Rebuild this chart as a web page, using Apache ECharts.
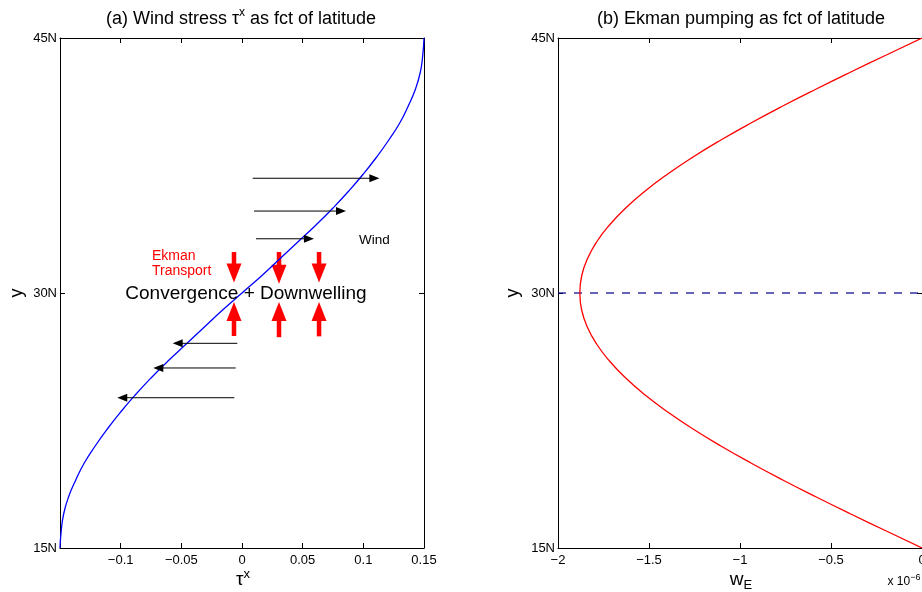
<!DOCTYPE html>
<html>
<head>
<meta charset="utf-8">
<script src="https://cdn.jsdelivr.net/npm/echarts@6/dist/echarts.min.js"></script>
<style>
html,body{margin:0;padding:0;background:#fff;}
#c{width:922px;height:592px;}
</style>
</head>
<body>
<div id="c"></div>
<script>
// ---- data ----
const latitudes = [15,16,17,18,19,20,21,22,23,24,25,26,27,28,29,30,31,32,33,34,35,36,37,38,39,40,41,42,43,44,45];
const tauX = [-0.150,-0.149,-0.147,-0.143,-0.137,-0.130,-0.121,-0.111,-0.100,-0.088,-0.075,-0.061,-0.046,-0.031,-0.016,0.000,
              0.016,0.031,0.046,0.061,0.075,0.088,0.100,0.111,0.121,0.130,0.137,0.143,0.147,0.149,0.150];
const ekmanW = [0.000,-0.196,-0.391,-0.581,-0.765,-0.940,-1.105,-1.258,-1.397,-1.521,-1.628,-1.717,-1.788,-1.839,-1.870,-1.880,
                -1.870,-1.839,-1.788,-1.717,-1.628,-1.521,-1.397,-1.258,-1.105,-0.940,-0.765,-0.581,-0.391,-0.196,0.000];
const refLat = 30;
// wind arrows (tau units, latitude)
const windLat   = [36.75, 34.82, 33.19, 27.04, 25.59, 23.84];
const windFrom  = [0.0088, 0.0099, 0.0115, -0.0039, -0.0052, -0.0063];
const windTo    = [0.1132, 0.0857, 0.0593, -0.0571, -0.0731, -0.1028];
// Ekman transport arrows
const ekmanArrowX = [-0.0066, 0.0305, 0.0635];
const downFromLat = [32.41, 32.41, 32.41];
const downToLat   = [30.62, 30.55, 30.62];
const upFromLat   = [27.47, 27.40, 27.45];
const upToLat     = [29.47, 29.47, 29.47];
const yTicks = ['15N','30N','45N'];

const FONT = 'Liberation Sans, Arial, Helvetica, sans-serif';
const chart = echarts.init(document.getElementById('c'), null, {renderer:'canvas'});

function fmtNum(v){
  const r = Math.round(v*1000)/1000;
  if (Math.abs(r) < 1e-9) return '0';
  return (r < 0 ? '\u2212' : '') + String(Math.abs(r));
}

function arrowRender(headLen, headW, color, lw){
  return function(params, api){
    const p1 = api.coord([api.value(0), api.value(1)]);
    const p2 = api.coord([api.value(2), api.value(3)]);
    const dx = p2[0]-p1[0], dy = p2[1]-p1[1];
    const L = Math.hypot(dx, dy) || 1;
    const ux = dx/L, uy = dy/L;
    const bx = p2[0]-ux*headLen, by = p2[1]-uy*headLen;
    const nx = -uy, ny = ux;
    return {type:'group', children:[
      {type:'line', shape:{x1:p1[0], y1:p1[1], x2:bx+ux*1, y2:by+uy*1}, style:{stroke:color, lineWidth:lw}},
      {type:'polygon', shape:{points:[[p2[0],p2[1]],[bx+nx*headW/2, by+ny*headW/2],[bx-nx*headW/2, by-ny*headW/2]]}, style:{fill:color}}
    ]};
  };
}

const windData = windLat.map((la,i)=>[windFrom[i], la, windTo[i], la]);
const ekData = [];
ekmanArrowX.forEach((x,i)=>{
  ekData.push([x, downFromLat[i], x, downToLat[i]]);
  ekData.push([x, upFromLat[i], x, upToLat[i]]);
});

function xAxisBase(gi, min, max, interval, pos, showLabel){
  return {
    type:'value', gridIndex:gi, min:min, max:max, interval:interval, position:pos,
    axisLine:{show:true, onZero:false, lineStyle:{color:'#000', width:1}},
    axisTick:{show:true, inside:true, length:5, lineStyle:{color:'#000'}},
    splitLine:{show:false},
    axisLabel:{show:showLabel, color:'#000', fontFamily:FONT, fontSize:13, margin:6, hideOverlap:false,
      showMinLabel:true, showMaxLabel:true,
      formatter:function(v){ if (gi===0 && Math.abs(v+0.15)<1e-6) return ''; return fmtNum(v); }}
  };
}
function yAxisBase(gi, pos, showLabel){
  return {
    type:'value', gridIndex:gi, min:15, max:45, interval:15, position:pos,
    axisLine:{show:true, onZero:false, lineStyle:{color:'#000', width:1}},
    axisTick:{show:true, inside:true, length:5, lineStyle:{color:'#000'}},
    splitLine:{show:false},
    axisLabel:{show:showLabel, color:'#000', fontFamily:FONT, fontSize:13, margin:3,
      showMinLabel:true, showMaxLabel:true,
      formatter:function(v){ return yTicks[Math.round((v-15)/15)]; }}
  };
}

function t(x, y, text, size, extra){
  return Object.assign({type:'text', x:x, y:y, z:10, style:{text:text, textAlign:'center', textVerticalAlign:'middle', align:'center', verticalAlign:'middle', font:size + 'px ' + FONT, fill:'#000'}}, extra || {});
}
function richSup(x, y, base, sup, after, size, supSize, lh){
  let txt = '{a|' + base + '}{s|' + sup + '}';
  if (after) txt += '{a|' + after + '}';
  return {type:'text', x:x, y:y, z:10, style:{text:txt, textAlign:'center', textVerticalAlign:'middle', align:'center', verticalAlign:'middle',
    rich:{a:{fontFamily:FONT, fontSize:size, lineHeight:lh, fill:'#000', color:'#000'},
          s:{fontFamily:FONT, fontSize:supSize, lineHeight:supSize, fill:'#000', color:'#000', verticalAlign:'top'}}}};
}

const option = {
  animation:false,
  backgroundColor:'#fff',
  grid:[
    {left:60, top:38, width:364, height:510, outerBoundsMode:'none', containLabel:false},
    {left:558, top:38, width:364, height:510, outerBoundsMode:'none', containLabel:false}
  ],
  xAxis:[
    xAxisBase(0, -0.15, 0.15, 0.05, 'bottom', true),
    xAxisBase(0, -0.15, 0.15, 0.05, 'top', false),
    xAxisBase(1, -2, 0, 0.5, 'bottom', true),
    xAxisBase(1, -2, 0, 0.5, 'top', false)
  ],
  yAxis:[
    yAxisBase(0, 'left', true),
    yAxisBase(0, 'right', false),
    yAxisBase(1, 'left', true),
    yAxisBase(1, 'right', false)
  ],
  series:[
    {type:'line', xAxisIndex:0, yAxisIndex:0, showSymbol:false, symbol:'none', smooth:0.5,
     lineStyle:{color:'#0000ff', width:1.3}, data: latitudes.map((la,i)=>[tauX[i], la]), z:3},
    {type:'custom', xAxisIndex:0, yAxisIndex:0, renderItem: arrowRender(10, 8, '#000', 1),
     encode:{x:[0,2], y:[1,3]}, data: windData, z:4},
    {type:'custom', xAxisIndex:0, yAxisIndex:0, renderItem: arrowRender(19, 15, '#ff0000', 4.5),
     encode:{x:[0,2], y:[1,3]}, data: ekData, z:2},
    {type:'line', xAxisIndex:2, yAxisIndex:2, showSymbol:false, symbol:'none', smooth:0.5,
     lineStyle:{color:'#ff0000', width:1.3}, data: latitudes.map((la,i)=>[ekmanW[i], la]), z:3},
    {type:'line', xAxisIndex:2, yAxisIndex:2, showSymbol:false, symbol:'none',
     lineStyle:{color:'#000090', width:1.2, type:[8,8]}, data: [[-2, refLat],[0, refLat]], z:2}
  ],
  graphic:[
    richSup(241, 19, '(a) Wind stress τ', 'x', ' as fct of latitude', 18, 12, 24),
    t(741, 19, '(b) Ekman pumping as fct of latitude', 18),
    richSup(243, 580, 'τ', 'x', '', 19, 13, 24),
    {type:'text', x:741, y:580, z:10, style:{text:'{a|w}{s|E}', textAlign:'center', textVerticalAlign:'middle', align:'center', verticalAlign:'middle',
      rich:{a:{fontFamily:FONT, fontSize:19, fill:'#000', color:'#000'}, s:{fontFamily:FONT, fontSize:13, fill:'#000', color:'#000', verticalAlign:'bottom', padding:[11,0,0,0]}}}},
    richSup(904, 582, 'x 10', '\u22126', '', 12, 9, 18),
    t(17, 293, 'y', 18, {rotation:Math.PI/2}),
    t(513, 293, 'y', 18, {rotation:Math.PI/2}),
    t(246, 294, 'Convergence + Downwelling', 19),
    {type:'text', x:359, y:240, z:10, style:{text:'Wind', textAlign:'left', textVerticalAlign:'middle', align:'left', verticalAlign:'middle', font:'13.5px ' + FONT, fill:'#000'}},
    {type:'text', x:152, y:256, z:10, style:{text:'Ekman', textAlign:'left', textVerticalAlign:'middle', align:'left', verticalAlign:'middle', font:'14px ' + FONT, fill:'#ff0000'}},
    {type:'text', x:152, y:271, z:10, style:{text:'Transport', textAlign:'left', textVerticalAlign:'middle', align:'left', verticalAlign:'middle', font:'14px ' + FONT, fill:'#ff0000'}}
  ]
};
chart.setOption(option);
</script>
</body>
</html>
